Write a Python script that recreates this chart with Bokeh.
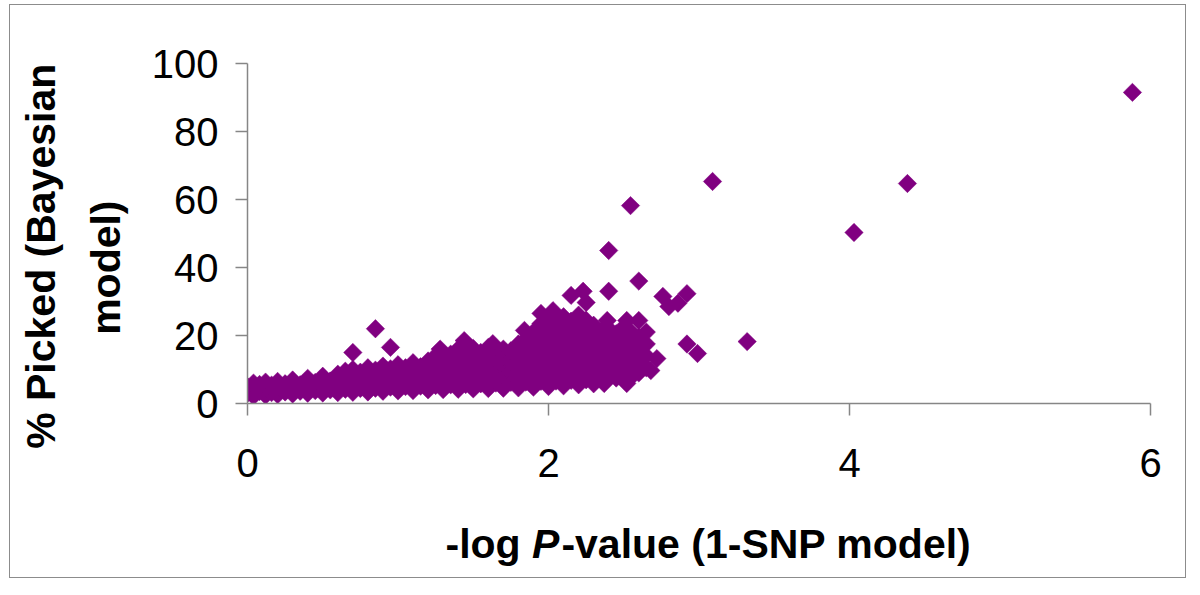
import math
from bokeh.plotting import figure
from bokeh.models import Range1d, FixedTicker, Label
from bokeh.embed import file_html
from bokeh.resources import INLINE

# ---------------- data ----------------
x_ticks = [0, 2, 4, 6]
x_tick_labels = ["0", "2", "4", "6"]
y_ticks = [0, 20, 40, 60, 80, 100]
y_tick_labels = ["0", "20", "40", "60", "80", "100"]

NBSP = "\u00a0"
y_title = "% Picked (Bayesian" + NBSP * 4 + "\nmodel)" + NBSP * 6
x_title_parts = ["-log ", "P", "-value (1-SNP model)"]

neg_log_p = [
    0.00, 0.00,
    0.04, 0.04, 0.04,
    0.08, 0.08,
    0.12, 0.12, 0.12,
    0.16, 0.16,
    0.20, 0.20, 0.20,
    0.25, 0.25,
    0.30, 0.30, 0.30,
    0.35, 0.35,
    0.40, 0.40, 0.40,
    0.45, 0.45,
    0.50, 0.50, 0.50,
    0.55, 0.55,
    0.60, 0.60, 0.60,
    0.65, 0.65, 0.65,
    0.70, 0.70, 0.70, 0.70, 0.70,
    0.75, 0.75, 0.75,
    0.80, 0.80, 0.80, 0.80,
    0.85, 0.85, 0.85, 0.85,
    0.90, 0.90, 0.90, 0.90,
    0.95, 0.95, 0.95, 0.95,
    1.00, 1.00, 1.00, 1.00,
    1.05, 1.05, 1.05,
    1.10, 1.10, 1.10, 1.10,
    1.15, 1.15, 1.15,
    1.20, 1.20, 1.20, 1.20,
    1.25, 1.25, 1.25, 1.25,
    1.28,
    1.30, 1.30, 1.30, 1.30,
    1.35, 1.35, 1.35, 1.35,
    1.40, 1.40, 1.40, 1.40, 1.40,
    1.44,
    1.45, 1.45, 1.45, 1.45,
    1.50, 1.50, 1.50, 1.50, 1.50,
    1.55, 1.55, 1.55, 1.55,
    1.60, 1.60, 1.60, 1.60, 1.60,
    1.63,
    1.65, 1.65, 1.65, 1.65,
    1.70, 1.70, 1.70, 1.70, 1.70,
    1.75, 1.75, 1.75, 1.75,
    1.80, 1.80, 1.80, 1.80, 1.80,
    1.84,
    1.85, 1.85, 1.85, 1.85, 1.85,
    1.90, 1.90, 1.90, 1.90, 1.90, 1.90,
    1.95, 1.95, 1.95, 1.95, 1.95, 1.95, 1.95,
    2.00, 2.00, 2.00, 2.00, 2.00, 2.00, 2.00,
    2.03,
    2.05, 2.05, 2.05, 2.05, 2.05, 2.05,
    2.10, 2.10, 2.10, 2.10, 2.10, 2.10, 2.10,
    2.15, 2.15, 2.15, 2.15, 2.15, 2.15, 2.15,
    2.20, 2.20, 2.20, 2.20, 2.20, 2.20, 2.20,
    2.23,
    2.25, 2.25, 2.25, 2.25, 2.25, 2.25, 2.25,
    2.30, 2.30, 2.30, 2.30, 2.30, 2.30,
    2.35, 2.35, 2.35, 2.35, 2.35,
    2.37,
    2.39,
    2.40, 2.40, 2.40, 2.40, 2.40, 2.40, 2.40,
    2.45, 2.45, 2.45, 2.45, 2.45,
    2.50, 2.50, 2.50, 2.50, 2.50,
    2.52, 2.52,
    2.545,
    2.55, 2.55, 2.55, 2.55, 2.55,
    2.60, 2.60, 2.60, 2.60, 2.60, 2.60,
    2.65, 2.65, 2.65, 2.65,
    2.68, 2.72, 2.76, 2.80, 2.86, 2.92, 2.92, 2.99,
    3.09, 3.32, 4.03, 4.385, 5.88,
]

pct_picked = [
    3.0, 5.0,
    2.2, 4.2, 6.0,
    3.5, 5.6,
    2.4, 4.6, 6.3,
    3.2, 5.4,
    2.6, 4.4, 6.5,
    3.4, 5.8,
    2.8, 4.8, 6.9,
    3.6, 5.5,
    3.0, 4.9, 7.4,
    3.8, 6.2,
    3.1, 5.2, 8.0,
    4.0, 6.6,
    3.2, 5.3, 8.6,
    4.2, 7.0, 9.5,
    3.3, 5.6, 8.2, 10.0, 15.0,
    4.4, 6.8, 9.2,
    3.4, 5.8, 8.5, 10.5,
    4.5, 7.2, 9.8, 22.0,
    3.6, 6.0, 8.6, 11.0,
    4.8, 7.5, 10.2, 16.5,
    3.7, 6.2, 9.0, 11.4,
    5.0, 7.8, 10.5,
    3.8, 6.4, 9.2, 12.0,
    5.1, 8.0, 10.8,
    4.0, 6.6, 9.4, 12.5,
    5.3, 8.2, 11.2, 14.0,
    16.0,
    4.1, 6.8, 9.6, 12.8,
    5.5, 8.4, 11.5, 14.5,
    4.2, 7.0, 9.9, 13.0, 16.0,
    18.5,
    5.6, 8.6, 11.8, 14.8,
    4.3, 7.2, 10.2, 13.3, 16.2,
    5.8, 8.8, 12.0, 15.0,
    4.4, 7.4, 10.5, 13.6, 16.5,
    17.6,
    6.0, 9.0, 12.2, 15.2,
    4.5, 7.6, 10.8, 14.0, 16.0,
    6.2, 9.3, 12.5, 15.5,
    4.6, 7.8, 11.0, 14.3, 17.5,
    21.5,
    6.3, 9.5, 12.8, 16.0, 19.0,
    4.8, 8.0, 11.3, 14.6, 18.0, 21.0,
    6.5, 9.8, 13.0, 16.5, 20.0, 23.5, 26.5,
    5.0, 8.2, 11.5, 15.0, 18.5, 22.0, 25.0,
    27.3,
    6.6, 10.0, 13.5, 17.0, 20.5, 24.0,
    5.2, 8.5, 12.0, 15.5, 19.0, 22.5, 25.5,
    6.8, 10.2, 13.8, 17.2, 20.8, 24.2, 31.8,
    5.5, 8.8, 12.2, 15.8, 19.2, 22.8, 26.0,
    33.0,
    7.0, 10.5, 14.0, 17.5, 21.0, 24.5, 29.7,
    5.8, 9.0, 12.5, 16.0, 19.5, 23.0,
    7.2, 10.8, 14.2, 17.8, 21.2,
    5.9,
    24.4,
    8.0, 11.5, 15.0, 18.5, 22.0, 33.0, 45.0,
    7.5, 10.5, 13.8, 17.2, 20.5,
    8.5, 12.0, 15.5, 19.0, 22.5,
    5.9, 24.4,
    58.2,
    7.8, 11.0, 14.5, 18.0, 21.0,
    9.0, 12.5, 16.0, 19.5, 24.4, 36.0,
    10.5, 14.0, 17.5, 21.0,
    9.7, 13.2, 31.5, 28.5, 29.5, 32.3, 17.5, 14.7,
    65.3, 18.2, 50.3, 64.7, 91.5,
]

# ---------------- figure ----------------
FONT = "Liberation Sans"
AXIS_GREY = "#868686"
PURPLE = "#800080"

p = figure(
    width=1177, height=574,
    output_backend="svg", toolbar_location=None,
    x_range=Range1d(0, 6), y_range=Range1d(0, 100),
    min_border_left=237, min_border_right=37,
    min_border_top=58, min_border_bottom=176,
)
p.background_fill_color = "white"
p.border_fill_color = "white"
p.outline_line_color = None
p.grid.visible = False
p.styles = {"border": "1px solid #8c8c8c", "margin-left": "9px", "margin-top": "4px"}

p.xaxis.ticker = FixedTicker(ticks=x_ticks)
p.yaxis.ticker = FixedTicker(ticks=y_ticks)
p.xaxis.major_label_overrides = {t: l for t, l in zip(x_ticks, x_tick_labels)}
p.yaxis.major_label_overrides = {t: l for t, l in zip(y_ticks, y_tick_labels)}

for ax in (p.xaxis[0], p.yaxis[0]):
    ax.axis_line_color = AXIS_GREY
    ax.axis_line_width = 1.5
    ax.major_tick_line_color = AXIS_GREY
    ax.major_tick_line_width = 1.5
    ax.major_tick_out = 12
    ax.major_tick_in = 0
    ax.minor_tick_line_color = None
    ax.major_label_text_font = FONT
    ax.major_label_text_font_size = "40px"
    ax.major_label_text_color = "black"
p.xaxis.major_label_standoff = 33
p.yaxis.major_label_standoff = 17

# y-axis title: two centred bold lines
p.yaxis.axis_label = y_title
p.yaxis.axis_label_text_font = FONT
p.yaxis.axis_label_text_font_style = "bold"
p.yaxis.axis_label_text_font_size = "41px"
p.yaxis.axis_label_text_color = "black"
p.yaxis.axis_label_text_line_height = 1.4
p.yaxis.axis_label_standoff = 20

p.scatter(neg_log_p, pct_picked, marker="square", angle=math.pi / 4,
          size=13, fill_color=PURPLE, line_color=PURPLE, line_width=0.5)

# x-axis title with italic P; the pieces live in side panels (so they are not
# clipped to the frame) and are positioned in data space below the axis.
XF = 41
x0 = 1.3156
y0 = -41.2
w1 = 2.111 * XF
wP = 0.667 * XF + 2
styles = ["bold", "bold italic", "bold"]
offsets = [0, w1, w1 + wP]
panels = ["below", "above", "below"]
for part, st, off, side in zip(x_title_parts, styles, offsets, panels):
    p.add_layout(Label(x=x0, y=y0, x_offset=off, text=part,
                       text_align="left", text_baseline="alphabetic",
                       text_font=FONT, text_font_style=st,
                       text_font_size=f"{XF}px", text_color="black"), side)

open("out.html", "w").write(file_html(p, INLINE))
